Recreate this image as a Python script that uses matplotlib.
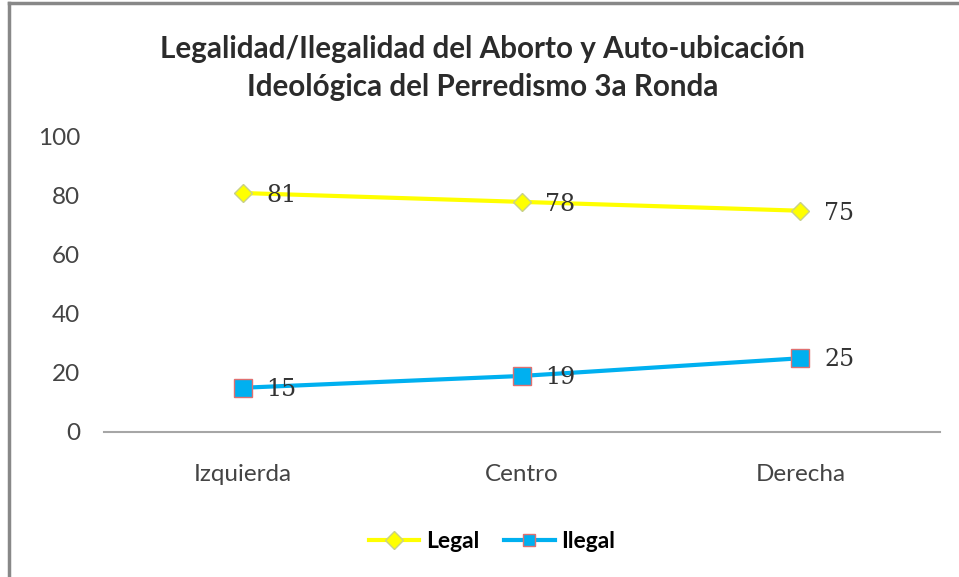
import matplotlib.pyplot as plt
from matplotlib.lines import Line2D

# Data
categories = ["Izquierda", "Centro", "Derecha"]
legal = [81, 78, 75]
ilegal = [15, 19, 25]
yticks = [0, 20, 40, 60, 80, 100]

plt.rcParams['font.family'] = ['Lato', 'DejaVu Sans']

fig = plt.figure(figsize=(9.59, 5.77), dpi=100)
ax = fig.add_axes([0.108, 0.2513, 0.872, 0.5113])

x = list(range(len(categories)))
ax.plot(x, legal, color='#ffff00', lw=3, marker='D', ms=9,
        mfc='#ffff00', mec='#c8d08a', mew=1, label='Legal')
ax.plot(x, ilegal, color='#00b0f0', lw=3, marker='s', ms=13,
        mfc='#00b0f0', mec='#e07070', mew=1, label='Ilegal')

for xi, v in zip(x, legal):
    ax.annotate(str(v), (xi, v), xytext=(17, -2), textcoords='offset points',
                va='center', fontsize=17, family='DejaVu Serif', color='#333333')
for xi, v in zip(x, ilegal):
    ax.annotate(str(v), (xi, v), xytext=(17, -1), textcoords='offset points',
                va='center', fontsize=17, family='DejaVu Serif', color='#333333')

ax.set_xlim(-0.5, len(categories) - 0.5)
ax.set_ylim(0, 100)
ax.set_yticks(yticks)
ax.set_xticks(x)
ax.set_xticklabels(categories)
ax.tick_params(axis='both', length=0, labelsize=17.5, colors='#444444')
ax.tick_params(axis='x', pad=23)
ax.tick_params(axis='y', pad=17)
for s in ['top', 'right', 'left']:
    ax.spines[s].set_visible(False)
ax.spines['bottom'].set_color('#a6a6a6')
ax.spines['bottom'].set_linewidth(1.5)

fig.text(0.503, 0.915, "Legalidad/Ilegalidad del Aborto y Auto-ubicación",
         ha='center', va='center', fontsize=21.3, fontweight='bold', color='#2b2b2b')
fig.text(0.503, 0.849, "Ideológica del Perredismo 3a Ronda",
         ha='center', va='center', fontsize=21.3, fontweight='bold', color='#2b2b2b')

leg = fig.legend(loc='center', bbox_to_anchor=(0.513, 0.062), ncol=2, frameon=False,
                 prop={'weight': 'bold', 'size': 16.5}, handlelength=2.2,
                 columnspacing=1.1, handletextpad=0.3)
for h in leg.legend_handles:
    h.set_markersize(9)

# figure border: left and top edges only
fig.add_artist(Line2D([0.0095, 0.0095], [0, 0.995], transform=fig.transFigure,
                      color='#888888', lw=2.5))
fig.add_artist(Line2D([0.0095, 1], [0.995, 0.995], transform=fig.transFigure,
                      color='#888888', lw=2.5))

fig.savefig('out.png', dpi=100)
